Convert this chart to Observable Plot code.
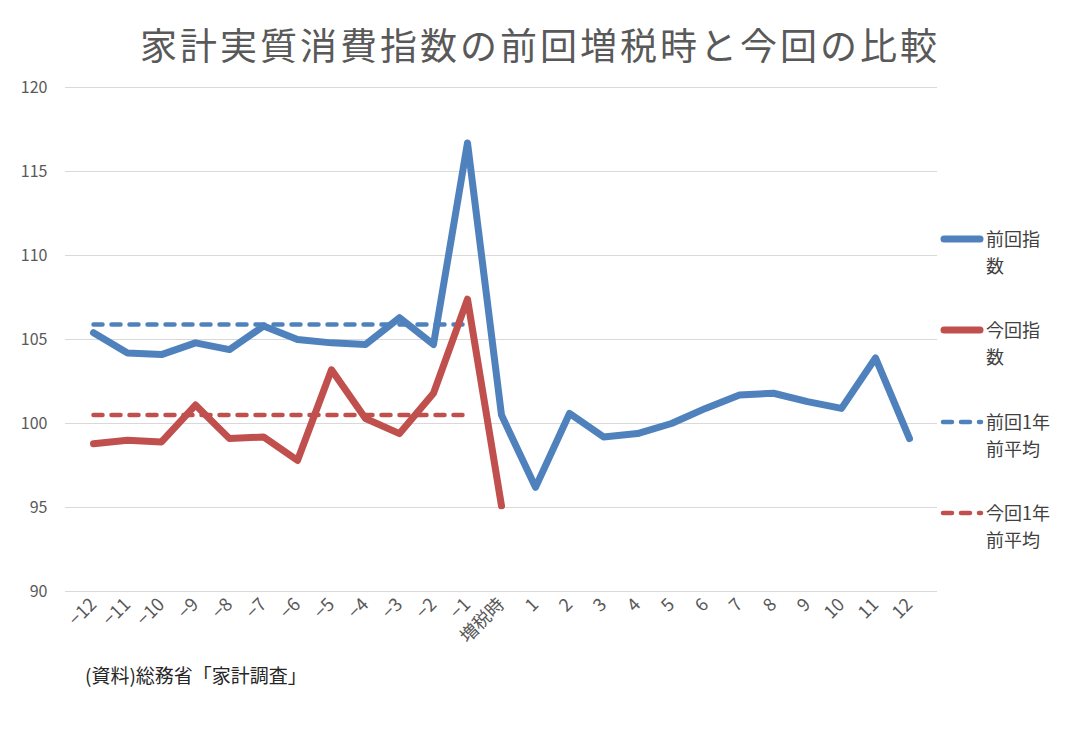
<!DOCTYPE html>
<html>
<head>
<meta charset="utf-8">
<script src="https://cdn.jsdelivr.net/npm/d3@7"></script>
<script src="https://cdn.jsdelivr.net/npm/@observablehq/plot@0.6"></script>
<style>
  html, body { margin: 0; padding: 0; background: #fff; }
  #wrap { position: relative; width: 1080px; height: 745px; font-family: "Noto Sans CJK JP", sans-serif; color: #595959; overflow: hidden; }
  #title { position: absolute; left: 0; width: 1080px; top: 24px; text-align: center; font-size: 37px; line-height: 40px; letter-spacing: 3px; color: #595959; }
  #chart { position: absolute; left: 0; top: 70px; }
  #caption { position: absolute; left: 85px; top: 663px; font-size: 19px; line-height: 24px; color: #262626; }
  .leg { position: absolute; left: 940px; display: flex; align-items: flex-start; }
  .leg svg { flex: none; margin-top: 9px; }
  .leg span { width: 68px; font-size: 18px; line-height: 27px; color: #404040; margin-left: 2px; }
</style>
</head>
<body>
<div id="wrap">
  <div id="title">家計実質消費指数の前回増税時と今回の比較</div>
  <div id="chart"></div>
  <div id="caption">(資料)総務省「家計調査」</div>
  <div id="legend"></div>
</div>
<script>
const periods = ["−12","−11","−10","−9","−8","−7","−6","−5","−4","−3","−2","−1","増税時","1","2","3","4","5","6","7","8","9","10","11","12"];
const prevIndex = [105.4,104.2,104.1,104.8,104.4,105.8,105.0,104.8,104.7,106.3,104.7,116.7,100.5,96.2,100.6,99.2,99.4,100.0,100.9,101.7,101.8,101.3,100.9,103.9,99.1];
const currIndex = [98.8,99.0,98.9,101.1,99.1,99.2,97.8,103.2,100.3,99.4,101.8,107.4,95.1];
const prevAvg = 105.9;
const currAvg = 100.5;
const avgPeriods = periods.slice(0, 12);
const yTicks = [90,95,100,105,110,115,120];
const seriesNames = ["前回指数","今回指数","前回1年前平均","今回1年前平均"];
const blue = "#4F81BD", red = "#C0504D";

const prevData = periods.map((p, i) => ({p, v: prevIndex[i]}));
const currData = currIndex.map((v, i) => ({p: periods[i], v}));
const prevAvgData = avgPeriods.map(p => ({p, v: prevAvg}));
const currAvgData = avgPeriods.map(p => ({p, v: currAvg}));

const plot = Plot.plot({
  width: 1080,
  height: 600,
  marginTop: 17,
  marginBottom: 79,
  marginLeft: 65,
  marginRight: 143,
  style: {fontFamily: "'Noto Sans CJK JP', sans-serif", color: "#595959", background: "transparent"},
  x: {type: "point", domain: periods, padding: 0.5},
  y: {domain: [90, 120]},
  marks: [
    Plot.ruleY(yTicks, {stroke: "#d9d9d9", strokeWidth: 1}),
    Plot.axisY({ticks: yTicks, tickSize: 0, tickPadding: 18, fontSize: 16, label: null}),
    Plot.axisX({tickRotate: -45, tickSize: 0, tickPadding: 10, fontSize: 18, label: null}),
    Plot.line(prevAvgData, {x: "p", y: "v", stroke: blue, strokeWidth: 4.5, strokeDasharray: "9,9", strokeLinecap: "round"}),
    Plot.line(currAvgData, {x: "p", y: "v", stroke: red, strokeWidth: 4.5, strokeDasharray: "9,9", strokeLinecap: "round"}),
    Plot.line(currData, {x: "p", y: "v", stroke: red, strokeWidth: 7, strokeLinejoin: "round", strokeLinecap: "round"}),
    Plot.line(prevData, {x: "p", y: "v", stroke: blue, strokeWidth: 7, strokeLinejoin: "round", strokeLinecap: "round"})
  ]
});
document.getElementById("chart").appendChild(plot);

const legendItems = [
  {name: seriesNames[0], color: blue, dash: null, top: 225},
  {name: seriesNames[1], color: red, dash: null, top: 316},
  {name: seriesNames[2], color: blue, dash: "9,9", top: 408},
  {name: seriesNames[3], color: red, dash: "9,9", top: 499}
];
const leg = document.getElementById("legend");
for (const it of legendItems) {
  const d = document.createElement("div");
  d.className = "leg";
  d.style.top = it.top + "px";
  const sw = it.dash
    ? `<line x1="3" y1="5" x2="41" y2="5" stroke="${it.color}" stroke-width="4.5" stroke-dasharray="${it.dash}" stroke-linecap="round"/>`
    : `<line x1="4" y1="5" x2="40" y2="5" stroke="${it.color}" stroke-width="7" stroke-linecap="round"/>`;
  d.innerHTML = `<svg width="44" height="10">${sw}</svg><span>${it.name}</span>`;
  leg.appendChild(d);
}
</script>
</body>
</html>
